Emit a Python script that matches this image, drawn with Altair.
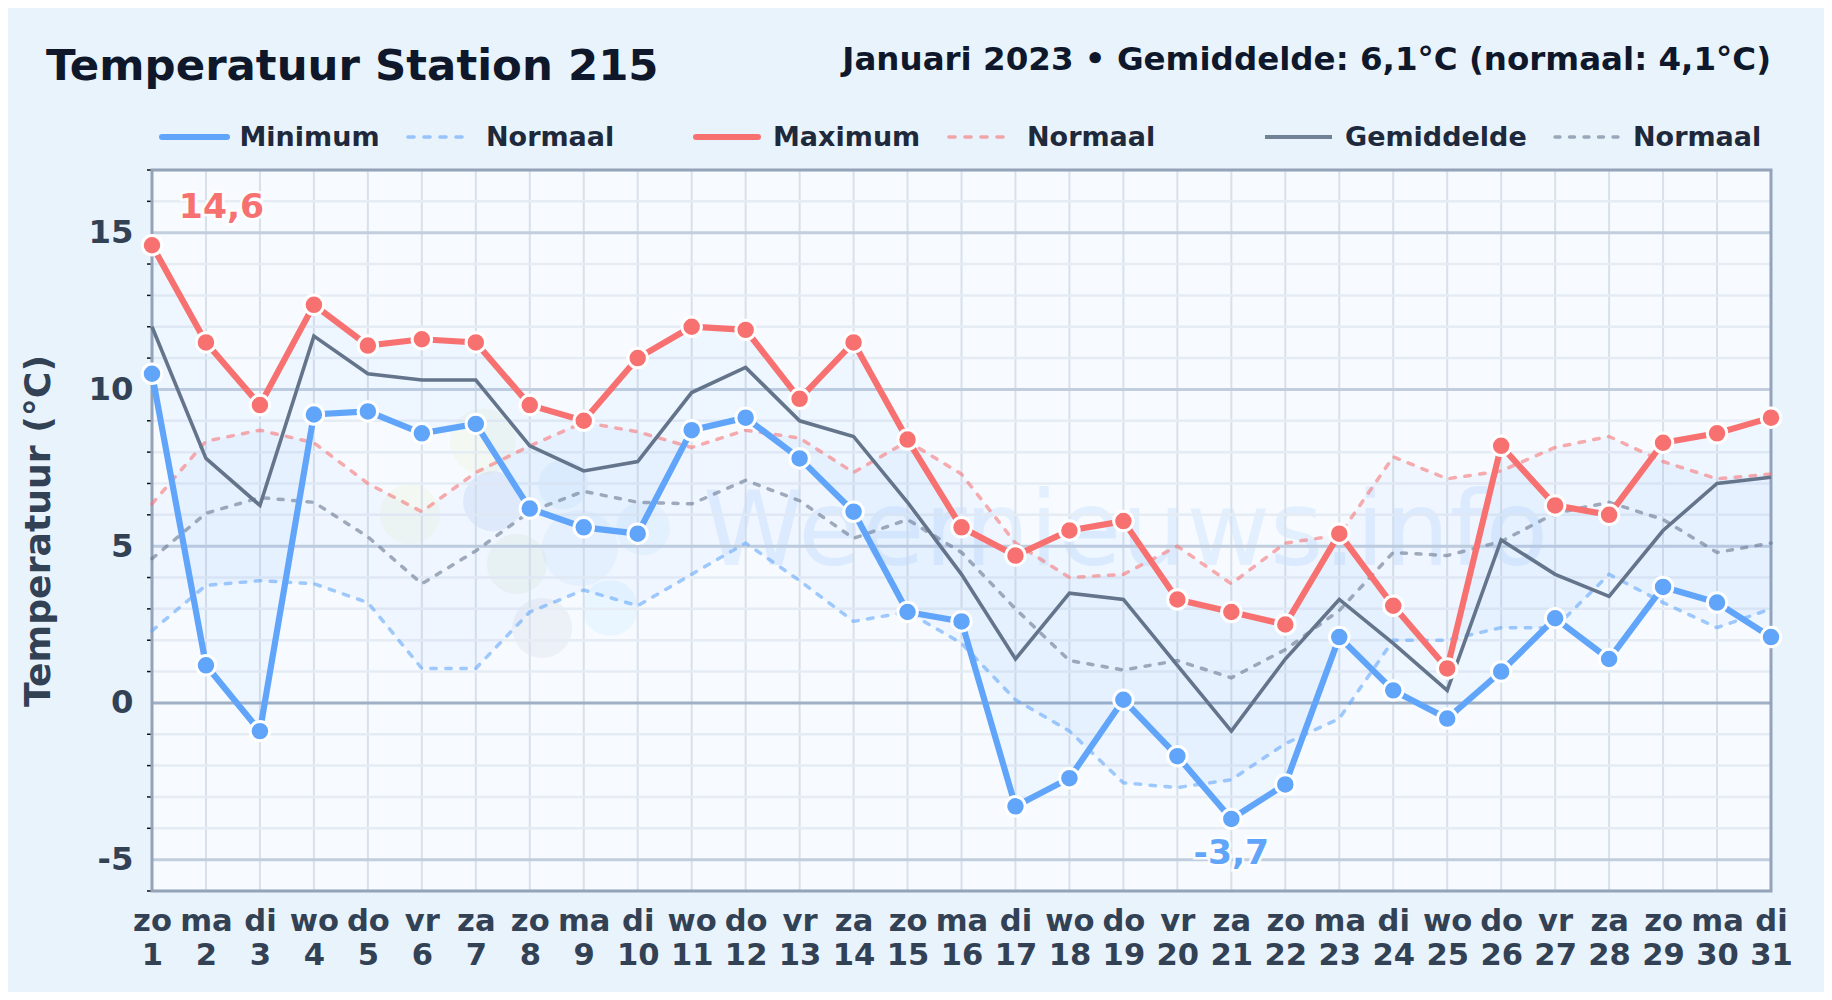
import json
import altair as alt
import pandas as pd

FONT = "DejaVu Sans"
PAGE = "#e8f3fc"

days = list(range(1, 32))
weekdays = ["zo","ma","di","wo","do","vr","za"] * 4 + ["zo","ma","di"]
t_min = [10.5,1.2,-0.9,9.2,9.3,8.6,8.9,6.2,5.6,5.4,8.7,9.1,7.8,6.1,2.9,2.6,-3.3,-2.4,0.1,-1.7,-3.7,-2.6,2.1,0.4,-0.5,1.0,2.7,1.4,3.7,3.2,2.1]
t_max = [14.6,11.5,9.5,12.7,11.4,11.6,11.5,9.5,9.0,11.0,12.0,11.9,9.7,11.5,8.4,5.6,4.7,5.5,5.8,3.3,2.9,2.5,5.4,3.1,1.1,8.2,6.3,6.0,8.3,8.6,9.1]
t_mean = [12.0,7.8,6.3,11.7,10.5,10.3,10.3,8.2,7.4,7.7,9.9,10.7,9.0,8.5,6.4,4.1,1.4,3.5,3.3,1.2,-0.9,1.4,3.3,1.9,0.4,5.2,4.1,3.4,5.5,7.0,7.2]
n_min = [2.3,3.75,3.9,3.8,3.2,1.1,1.1,2.9,3.6,3.1,4.1,5.1,3.9,2.6,2.9,1.9,0.1,-0.9,-2.55,-2.7,-2.45,-1.3,-0.5,2.0,2.0,2.4,2.4,4.1,3.2,2.4,3.0]
n_max = [6.35,8.35,8.7,8.3,7.0,6.1,7.35,8.2,8.95,8.65,8.15,8.7,8.45,7.35,8.35,7.3,5.1,4.0,4.1,5.0,3.8,5.1,5.35,7.85,7.15,7.4,8.15,8.5,7.7,7.15,7.3]
n_mean = [4.6,6.05,6.55,6.4,5.3,3.8,4.85,6.1,6.75,6.4,6.35,7.1,6.45,5.25,5.85,4.8,3.0,1.35,1.05,1.35,0.8,1.7,2.95,4.8,4.7,5.15,6.05,6.4,5.85,4.8,5.1]

major_y = [-5, 0, 5, 10, 15]
minor_y = [v for v in range(-6, 18) if v % 5 != 0]

TITLE = "Temperatuur Station 215"
SUBTITLE = "Januari 2023 • Gemiddelde: 6,1°C (normaal: 4,1°C)"
WATERMARK = "Weernieuws.info"

blob_day = [7.13,5.78,7.76,7.32,8.62,8.93,10.1,9.49,8.23]
blob_t = [8.34,6.02,4.43,6.43,6.97,4.94,5.57,3.03,2.39]
blob_size = [4356,3600,3600,3600,2500,5776,2916,3136,3600]
blob_col = ["#d9e8a0","#d9e8a0","#bcdca8","#5b95d8","#7cc0f5","#6db0f0","#7cc0f5","#7dd3fc","#64748b"]
blob_op = [0.13,0.13,0.13,0.11,0.10,0.08,0.10,0.11,0.07]

W, H = 1619, 721
LEFT, TOP = 152, 170
xs = alt.Scale(domain=[1, 31], nice=False, zero=False)
ys = alt.Scale(domain=[-6, 17], nice=False, zero=False)

label_expr = f"[{json.dumps(weekdays)}[datum.value-1], ''+datum.value]"
x_axis = alt.Axis(values=days, title=None, ticks=False, domain=False, grid=False,
                  labelExpr=label_expr, labelFont=FONT, labelFontWeight="bold",
                  labelFontSize=30.6, labelColor="#334155", labelAngle=0,
                  labelPadding=15.5, labelLineHeight=33.5, labelOverlap=False,
                  labelFlush=False, labelBound=False)
y_axis = alt.Axis(values=major_y, title="Temperatuur (°C)", ticks=False, domain=False, grid=False,
                  labelExpr="''+datum.value",
                  labelFont=FONT, labelFontWeight="bold", labelFontSize=32.3,
                  labelColor="#334155", labelPadding=19, labelOverlap=False,
                  titleFont=FONT, titleFontWeight="bold", titleFontSize=36.2,
                  titleColor="#334155", titleX=-114, titleBaseline="middle")

df = pd.DataFrame({"day": days, "tmin": t_min, "tmax": t_max, "tmean": t_mean,
                   "nmin": n_min, "nmax": n_max, "nmean": n_mean})
base = alt.Chart(df)


def X(f="day"):
    return alt.X(f"{f}:Q", scale=xs, axis=x_axis)


def Y(f):
    return alt.Y(f"{f}:Q", scale=ys, axis=y_axis)


# watermark
blobs = alt.Chart(pd.DataFrame({"day": blob_day, "t": blob_t, "s": blob_size, "c": blob_col, "o": blob_op})).mark_circle().encode(
    x=X(), y=Y("t"),
    size=alt.Size("s:Q", scale=None, legend=None), color=alt.Color("c:N", scale=None, legend=None),
    opacity=alt.Opacity("o:Q", scale=None, legend=None))
wm = alt.Chart(pd.DataFrame({"t": [WATERMARK]})).mark_text(
    font=FONT, fontSize=102.5, color="#60a5fa", opacity=0.13, align="left", baseline="alphabetic"
).encode(x=alt.value(703 - LEFT), y=alt.value(565 - TOP), text="t:N")

# grid
day_grid = alt.Chart(pd.DataFrame({"d": days})).mark_rule(color="#d8e0ea", strokeWidth=2).encode(x=X("d"))
minor_grid = alt.Chart(pd.DataFrame({"v": minor_y})).mark_rule(color="#e6ecf4", strokeWidth=2.5).encode(y=Y("v"))
major_grid = alt.Chart(pd.DataFrame({"v": [v for v in major_y if v != 0]})).mark_rule(color="#c2cede", strokeWidth=3).encode(y=Y("v"))
zero_line = alt.Chart(pd.DataFrame({"v": [0]})).mark_rule(color="#9fb0c5", strokeWidth=3).encode(y=Y("v"))
ticks = alt.Chart(pd.DataFrame({"v": minor_y})).mark_rule(color="#111111", strokeWidth=1.5).encode(
    y=Y("v"), x=alt.value(-5), x2=alt.value(0))
frame = alt.Chart(pd.DataFrame({"a": [0]})).mark_rect(fill="transparent", stroke="#94a3b8", strokeWidth=3).encode(
    x=alt.value(0), x2=alt.value(W), y=alt.value(0), y2=alt.value(H))

# bands
band1 = base.mark_area(color="#60a5fa", opacity=0.06).encode(x=X(), y=Y("tmin"), y2="tmax:Q")
band2 = base.mark_area(color="#60a5fa", opacity=0.05).encode(x=X(), y=Y("nmin"), y2="nmax:Q")


def dashed(field, col, dash, sw=3.5, op=0.58):
    return base.mark_line(color=col, strokeWidth=sw, strokeDash=dash, strokeCap="round", opacity=op).encode(x=X(), y=Y(field))


def solid(field, col, sw):
    return base.mark_line(color=col, strokeWidth=sw).encode(x=X(), y=Y(field))


def dots(field, col):
    return base.mark_circle(color=col, size=380, opacity=1, stroke="white", strokeWidth=3).encode(x=X(), y=Y(field))


def halo_label(day, t, txt, col, dx, dy):
    d = alt.Chart(pd.DataFrame({"day": [day], "t": [t], "s": [txt]}))
    kw = dict(font=FONT, fontWeight="bold", fontSize=34.6, align="center", baseline="alphabetic", dx=dx, dy=dy)
    enc = dict(x=X(), y=Y("t"), text="s:N")
    return (d.mark_text(color="white", stroke="white", strokeWidth=5, opacity=0.85, **kw).encode(**enc)
            + d.mark_text(color=col, **kw).encode(**enc))


BLUE, RED, GREY = "#60a5fa", "#f87171", "#64748b"


def leg_line(x1, x2, col, sw, dash=None, op=1.0):
    kw = dict(color=col, strokeWidth=sw, opacity=op, strokeCap="round" if dash or sw > 4 else "butt")
    if dash:
        kw["strokeDash"] = dash
    return alt.Chart(pd.DataFrame({"a": [0]})).mark_rule(**kw).encode(
        x=alt.value(x1 - LEFT), x2=alt.value(x2 - LEFT), y=alt.value(137 - TOP))


def page_text(txt, x, y, size, col, align="left"):
    return alt.Chart(pd.DataFrame({"t": [txt]})).mark_text(
        font=FONT, fontWeight="bold", fontSize=size, color=col, align=align, baseline="alphabetic"
    ).encode(x=alt.value(x - LEFT), y=alt.value(y - TOP), text="t:N")


LEG = "#1e293b"
LS = 27
legend = [
    leg_line(162, 227, BLUE, 6), page_text("Minimum", 239.5, 146, LS, LEG),
    leg_line(408, 464, BLUE, 3.6, [6, 10], 0.6), page_text("Normaal", 486, 146, LS, LEG),
    leg_line(696, 758, RED, 6), page_text("Maximum", 773, 146, LS, LEG),
    leg_line(949, 1005, RED, 3.6, [6, 10], 0.6), page_text("Normaal", 1027, 146, LS, LEG),
    leg_line(1265, 1332, GREY, 4, None, 0.9), page_text("Gemiddelde", 1345, 146, LS, LEG),
    leg_line(1555, 1618, GREY, 3.4, [5, 9.5], 0.6), page_text("Normaal", 1633, 146, LS, LEG),
]

chart = alt.layer(
    blobs, wm, day_grid, minor_grid, major_grid, zero_line, ticks, frame,
    band2, band1,
    dashed("nmin", BLUE, [5.5, 9.5]), dashed("nmax", RED, [5.5, 9.5]), dashed("nmean", GREY, [5, 9.5]),
    solid("tmean", GREY, 3.6), solid("tmin", BLUE, 6.2), solid("tmax", RED, 6.2),
    dots("tmin", BLUE), dots("tmax", RED),
    halo_label(1, 14.6, "14,6", RED, 69.5, -27), halo_label(21, -3.7, "-3,7", BLUE, 0, 45),
    page_text(TITLE, 46, 79.5, 43.45, "#0f172a"),
    page_text(SUBTITLE, 1771, 70, 32.5, "#0f172a", "right"),
    *legend,
).properties(
    width=W, height=H,
    autosize=alt.AutoSizeParams(type="none"),
    padding={"left": LEFT - 8, "top": TOP - 8, "right": 53, "bottom": 984 - (TOP - 8) - H},
    background=PAGE,
).configure_view(fill="#f7fbff", stroke=None)

chart.save("out.html", embed_options={"renderer": "svg", "actions": False})
